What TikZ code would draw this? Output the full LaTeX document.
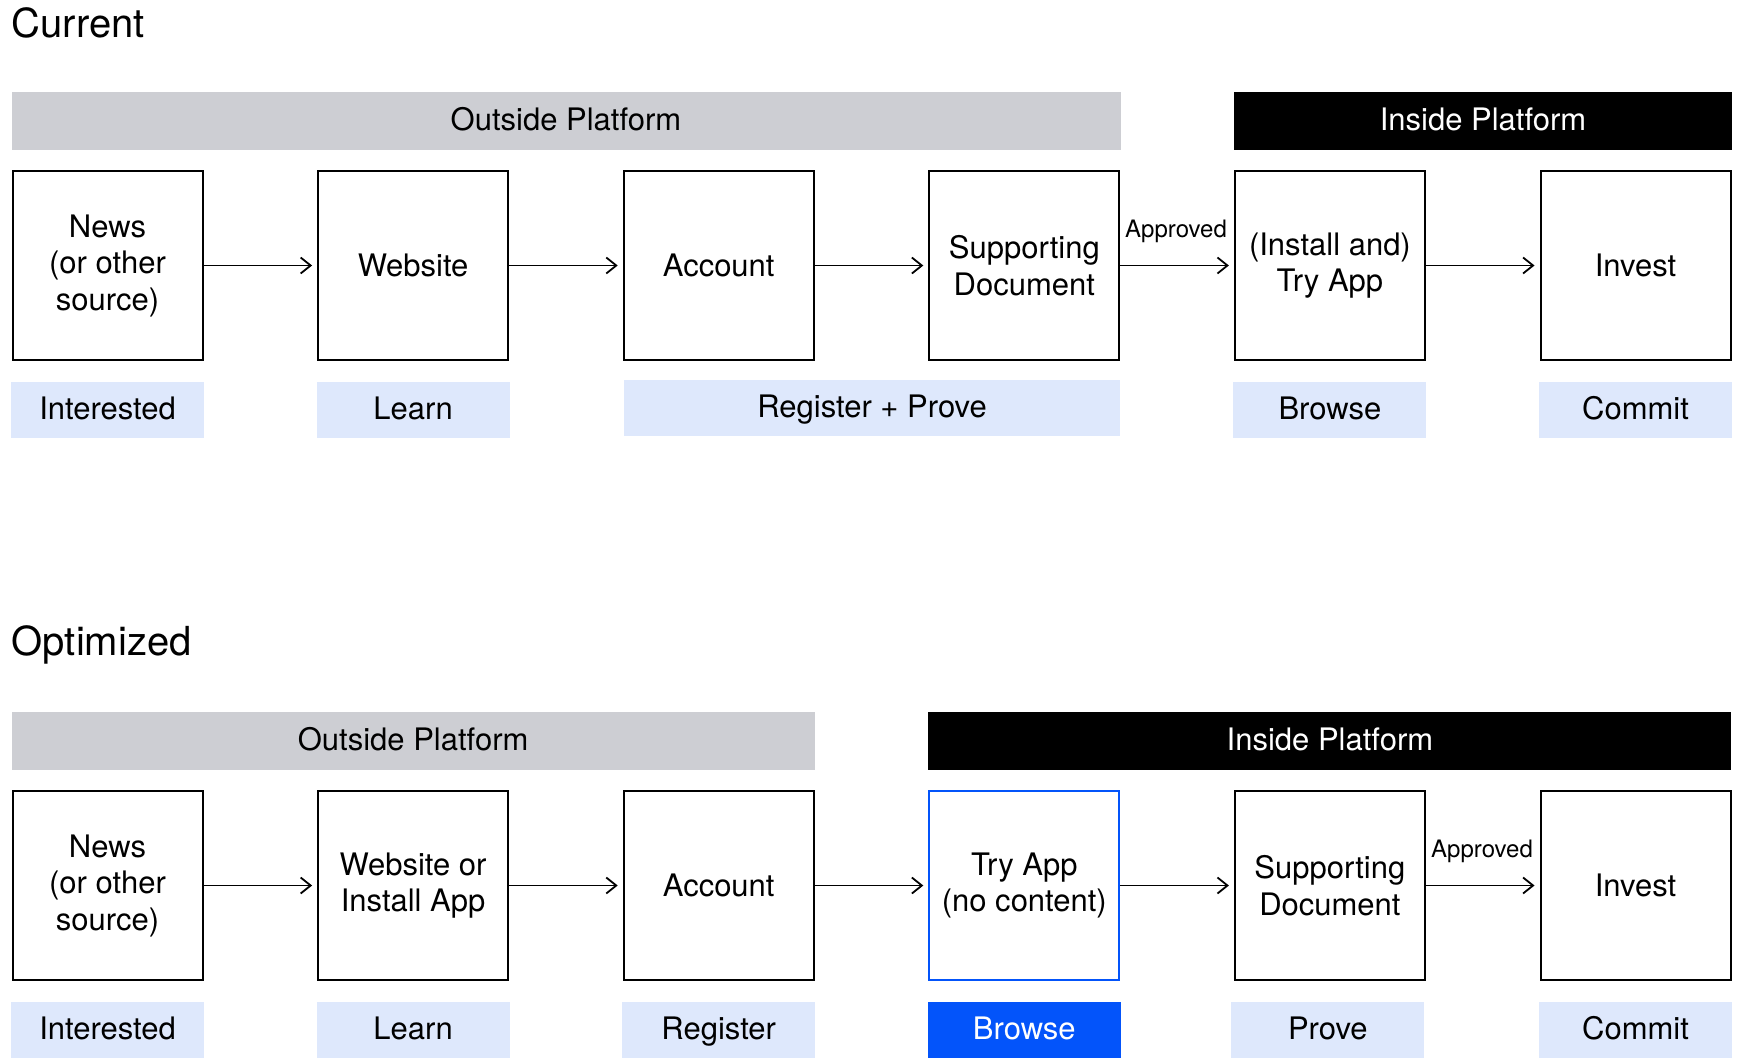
\documentclass[tikz,border=0pt]{standalone}
\usepackage{fontspec}
\setmainfont{TeX Gyre Heros}
\usetikzlibrary{arrows.meta}
\definecolor{bannergray}{RGB}{205,206,211}
\definecolor{labelblue}{RGB}{222,232,252}
\definecolor{hiblue}{RGB}{3,84,250}
\tikzset{
  stepbox/.style={draw=black, line width=2pt, minimum width=190pt, minimum height=189pt, inner sep=0pt, align=center, font=\fontsize{31}{36.5}\selectfont},
  hibox/.style={stepbox, draw=hiblue},
  banner/.style={fill=bannergray, minimum height=58pt, inner sep=0pt, text height=22pt, text depth=4pt, font=\fontsize{31}{36}\selectfont},
  inbanner/.style={banner, fill=black, text=white},
  tag/.style={fill=labelblue, minimum height=56pt, minimum width=193pt, inner sep=0pt, text height=22pt, text depth=2pt, font=\fontsize{31}{36}\selectfont},
  hitag/.style={tag, fill=hiblue, text=white},
  flow/.style={line width=1.8pt, -{Straight Barb[length=10pt,width=16pt]}, shorten >=5pt},
  title/.style={anchor=base west, inner sep=0pt, font=\fontsize{40}{47}\selectfont},
  approved/.style={anchor=base, inner sep=0pt, font=\fontsize{24}{28}\selectfont},
}
\begin{document}
\begin{tikzpicture}[x=1pt,y=-1pt]
\useasboundingbox[fill=white] (0,0) rectangle (1744,1058);

% ---------- Current ----------
\node[title] (tcur) at (11.5,37.7) {Current};
\node[banner, minimum width=1109pt] (outA) at (566,121) {Outside Platform};
\node[inbanner, minimum width=498pt] (inA) at (1483,121) {Inside Platform};

\node[stepbox] (a1) at (107.5,265.5) {News\\(or other\\source)};
\node[stepbox] (a2) at (413.1,265.5) {Website};
\node[stepbox] (a3) at (718.7,265.5) {Account};
\node[stepbox] (a4) at (1024.3,265.5) {Supporting\\Document};
\node[stepbox] (a5) at (1329.9,265.5) {(Install and)\\Try App};
\node[stepbox] (a6) at (1635.5,265.5) {Invest};

\draw[flow] (a1) -- (a2);
\draw[flow] (a2) -- (a3);
\draw[flow] (a3) -- (a4);
\draw[flow] (a4) -- (a5);
\draw[flow] (a5) -- (a6);
\node[approved] (apA) at (1176,237) {Approved};

\node[tag] (la1) at (107.5,409.5) {Interested};
\node[tag] (la2) at (413.1,409.5) {Learn};
\node[tag, minimum width=496pt] (la34) at (872,407.5) {Register + Prove};
\node[tag] (la5) at (1329.9,409.5) {Browse};
\node[tag] (la6) at (1635.5,409.5) {Commit};

% ---------- Optimized ----------
\node[title] (topt) at (11.5,655) {Optimized};
\node[banner, minimum width=803pt] (outB) at (413.1,741) {Outside Platform};
\node[inbanner, minimum width=803pt] (inB) at (1329.9,741) {Inside Platform};

\node[stepbox] (b1) at (107.5,885.5) {News\\(or other\\source)};
\node[stepbox] (b2) at (413.1,885.5) {Website or\\Install App};
\node[stepbox] (b3) at (718.7,885.5) {Account};
\node[hibox] (b4) at (1024.3,885.5) {Try App\\(no content)};
\node[stepbox] (b5) at (1329.9,885.5) {Supporting\\Document};
\node[stepbox] (b6) at (1635.5,885.5) {Invest};

\draw[flow] (b1) -- (b2);
\draw[flow] (b2) -- (b3);
\draw[flow] (b3) -- (b4);
\draw[flow] (b4) -- (b5);
\draw[flow] (b5) -- (b6);
\node[approved] (apB) at (1482,857) {Approved};

\node[tag] (lb1) at (107.5,1029.5) {Interested};
\node[tag] (lb2) at (413.1,1029.5) {Learn};
\node[tag] (lb3) at (718.7,1029.5) {Register};
\node[hitag] (lb4) at (1024.3,1029.5) {Browse};
\node[tag] (lb5) at (1327.8,1029.5) {Prove};
\node[tag] (lb6) at (1635.5,1029.5) {Commit};
\end{tikzpicture}
\end{document}
